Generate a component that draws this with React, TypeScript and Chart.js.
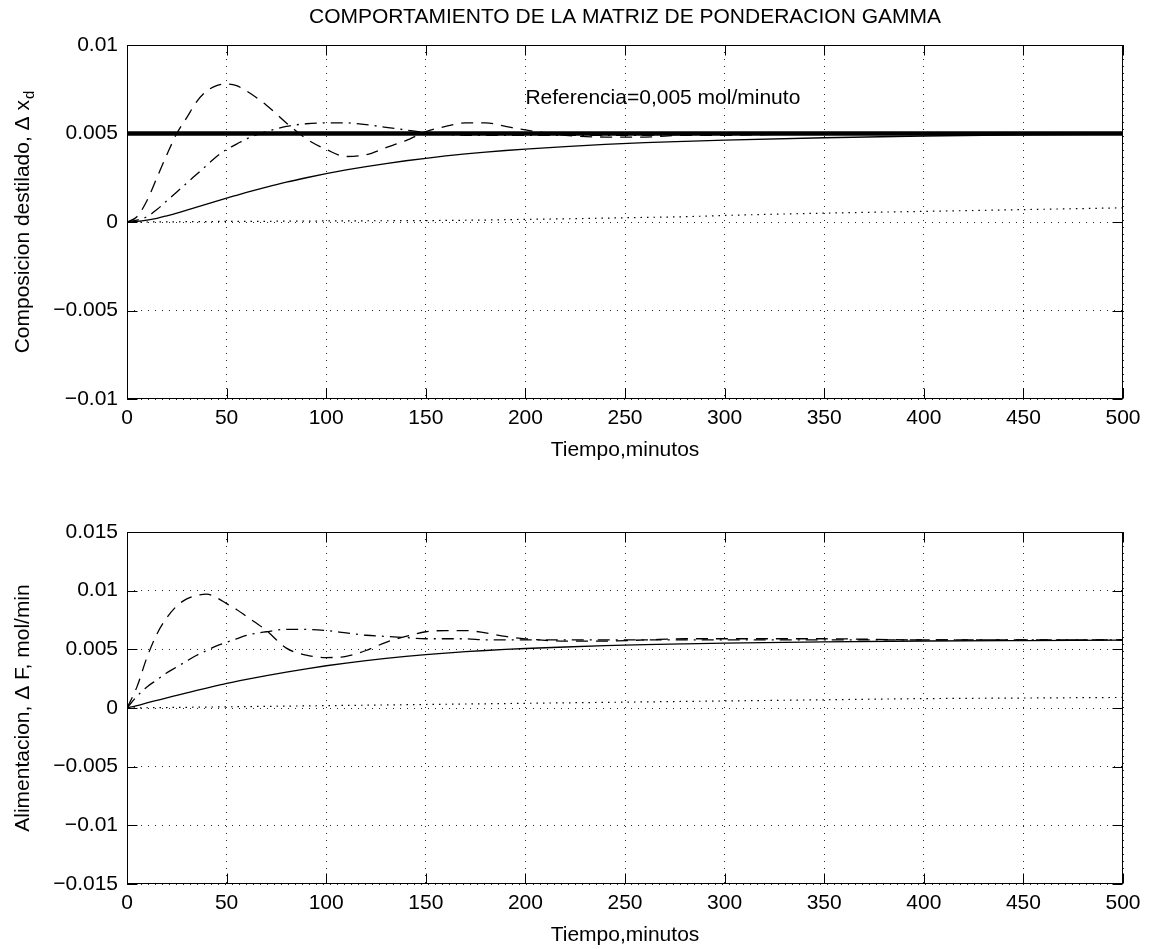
import React, { useEffect, useRef } from "react";
import { Chart, registerables } from "chart.js";

Chart.register(...registerables);

const FONT = '"Liberation Sans", Arial, Helvetica, sans-serif';

// ---------- DATA ----------
const TIME = [0, 5, 10, 15, 20, 25, 30, 35, 40, 45, 50, 55, 60, 70, 80, 90, 100, 110, 120, 130, 140, 150, 160, 170, 180, 190, 200, 220, 240, 260, 280, 300, 350, 400, 450, 500];

// Top subplot: Composicion destilado
const TOP_DASHED = [0, 0.0003, 0.0012, 0.0025, 0.0038, 0.005, 0.0059, 0.0068, 0.0074, 0.0077, 0.0078, 0.0077, 0.0074, 0.0066, 0.0056, 0.0047, 0.0041, 0.0037, 0.0038, 0.0042, 0.0046, 0.0051, 0.0054, 0.0056, 0.0056, 0.0054, 0.0052, 0.0049, 0.0048, 0.0048, 0.0049, 0.0049, 0.005, 0.005, 0.005, 0.005];
const TOP_DASHDOT = [0, 0.0001, 0.0003, 0.0007, 0.0012, 0.0017, 0.0022, 0.0027, 0.0032, 0.0037, 0.0041, 0.0044, 0.0047, 0.0051, 0.0054, 0.00555, 0.0056, 0.0056, 0.0055, 0.00535, 0.0052, 0.00505, 0.00495, 0.0049, 0.0049, 0.0049, 0.0049, 0.0049, 0.0049, 0.0049, 0.00495, 0.005, 0.005, 0.005, 0.005, 0.005];
const TOP_SOLID = [0, 0.00003, 0.0001, 0.00021, 0.00035, 0.0005, 0.00067, 0.00084, 0.00101, 0.00118, 0.00135, 0.00151, 0.00167, 0.00197, 0.00225, 0.0025, 0.00273, 0.00294, 0.00313, 0.0033, 0.00346, 0.0036, 0.00373, 0.00385, 0.00395, 0.00404, 0.00412, 0.00426, 0.00438, 0.00448, 0.00456, 0.00463, 0.00476, 0.00486, 0.00493, 0.00497];
const TOP_DOTTED = [0, 0, 0, 0.00001, 0.00001, 0.00001, 0.00002, 0.00002, 0.00002, 0.00003, 0.00003, 0.00003, 0.00004, 0.00004, 0.00005, 0.00005, 0.00006, 0.00006, 0.00007, 0.00007, 0.00008, 0.00008, 0.00009, 0.0001, 0.00011, 0.00013, 0.00015, 0.00018, 0.00022, 0.00026, 0.0003, 0.00037, 0.0005, 0.0006, 0.0007, 0.0008];
const REF_TIME = [0, 500];
const REF_VALUE = [0.005, 0.005];

// Bottom subplot: Alimentacion
const BOT_DASHED = [0, 0.0018, 0.0043, 0.0063, 0.0077, 0.0087, 0.0093, 0.0096, 0.0097, 0.0094, 0.0089, 0.0084, 0.0078, 0.0066, 0.0051, 0.0045, 0.0043, 0.0044, 0.0049, 0.0056, 0.0061, 0.0065, 0.0066, 0.0066, 0.0064, 0.0061, 0.0059, 0.0057, 0.0057, 0.0058, 0.0059, 0.0059, 0.0059, 0.0058, 0.0058, 0.0058];
const BOT_DASHDOT = [0, 0.001, 0.0018, 0.0024, 0.003, 0.0035, 0.004, 0.0045, 0.0049, 0.0053, 0.0056, 0.0059, 0.0062, 0.0065, 0.0067, 0.0067, 0.0066, 0.0064, 0.0062, 0.0061, 0.006, 0.0059, 0.0059, 0.0059, 0.0058, 0.0058, 0.0058, 0.0058, 0.0058, 0.0058, 0.0058, 0.0058, 0.0058, 0.0058, 0.0058, 0.0058];
const BOT_SOLID = [0, 0.0002, 0.00043, 0.00065, 0.00087, 0.00108, 0.00129, 0.0015, 0.0017, 0.0019, 0.0021, 0.00227, 0.00244, 0.00276, 0.00306, 0.00334, 0.0036, 0.00383, 0.00404, 0.00423, 0.0044, 0.00455, 0.00468, 0.0048, 0.0049, 0.00499, 0.00507, 0.0052, 0.00531, 0.0054, 0.00547, 0.00553, 0.00564, 0.00571, 0.00575, 0.00578];
const BOT_DOTTED = [0, 0.00001, 0.00002, 0.00003, 0.00004, 0.00005, 0.00006, 0.00007, 0.00008, 0.00009, 0.0001, 0.00011, 0.00012, 0.00014, 0.00016, 0.00018, 0.0002, 0.00022, 0.00024, 0.00026, 0.00028, 0.0003, 0.00032, 0.00034, 0.00036, 0.00038, 0.0004, 0.00044, 0.00048, 0.00052, 0.00056, 0.0006, 0.0007, 0.0008, 0.00085, 0.0009];

// Ticks
const X_TICK_VALUES = [0, 50, 100, 150, 200, 250, 300, 350, 400, 450, 500];
const X_TICK_LABELS = ["0", "50", "100", "150", "200", "250", "300", "350", "400", "450", "500"];
const TOP_Y_TICK_VALUES = [-0.01, -0.005, 0, 0.005, 0.01];
const TOP_Y_TICK_LABELS = ["\u22120.01", "\u22120.005", "0", "0.005", "0.01"];
const BOT_Y_TICK_VALUES = [-0.015, -0.01, -0.005, 0, 0.005, 0.01, 0.015];
const BOT_Y_TICK_LABELS = ["\u22120.015", "\u22120.01", "\u22120.005", "0", "0.005", "0.01", "0.015"];

// Texts
const TITLE = "COMPORTAMIENTO DE LA MATRIZ DE PONDERACION GAMMA";
const X_TITLE = "Tiempo,minutos";
const TOP_Y_TITLE = "Composicion destilado, \u0394 x";
const TOP_Y_SUB = "d";
const BOT_Y_TITLE = "Alimentacion, \u0394 F, mol/min";
const ANNOTATION = "Referencia=0,005 mol/minuto";
const ANNOTATION_AT = { x: 200, y: 0.007 };

// ---------- helpers ----------
function pts(xs: number[], ys: number[]) {
  return xs.map((x, i) => ({ x, y: ys[i] }));
}

function lookupLabel(values: number[], labels: string[], v: number) {
  let best = 0;
  for (let i = 1; i < values.length; i++) {
    if (Math.abs(values[i] - v) < Math.abs(values[best] - v)) best = i;
  }
  return labels[best];
}

function lineDs(data: any[], dash: number[], width: number) {
  return {
    data,
    borderColor: "#000",
    borderWidth: width,
    borderDash: dash,
    pointRadius: 0,
    fill: false,
    cubicInterpolationMode: "monotone" as const,
  };
}

interface SubProps {
  top: number;
  height: number;
  areaTop: number;
  areaBottom: number;
  datasets: any[];
  yMin: number;
  yMax: number;
  yTickValues: number[];
  yTickLabels: string[];
  yTitle: string;
  ySub?: string;
  showTitle?: boolean;
  annotation?: boolean;
}

const AREA_LEFT = 127;
const AREA_RIGHT = 1123;
const W = 1155;

function SubPlot(p: SubProps) {
  const ref = useRef<HTMLCanvasElement | null>(null);
  useEffect(() => {
    const canvas = ref.current;
    if (!canvas) return;
    const plugin = {
      id: "frameAndText",
      afterDraw(chart: any) {
        const { ctx, chartArea: a, scales } = chart;
        const xs = scales.x;
        const ys = scales.y;
        ctx.save();
        ctx.strokeStyle = "#000";
        ctx.lineWidth = 1;
        ctx.setLineDash([]);
        const L = Math.round(a.left) + 0.5;
        const R = Math.round(a.right) - 0.5;
        const T = Math.round(a.top) + 0.5;
        const B = Math.round(a.bottom) - 0.5;
        ctx.strokeRect(L, T, R - L, B - T);
        ctx.beginPath();
        xs.ticks.forEach((t: any) => {
          const px = Math.round(xs.getPixelForValue(t.value)) + 0.5;
          ctx.moveTo(px, B);
          ctx.lineTo(px, B - 10);
          ctx.moveTo(px, T);
          ctx.lineTo(px, T + 10);
        });
        ys.ticks.forEach((t: any) => {
          const py = Math.round(ys.getPixelForValue(t.value)) + 0.5;
          ctx.moveTo(L, py);
          ctx.lineTo(L + 10, py);
          ctx.moveTo(R, py);
          ctx.lineTo(R - 10, py);
        });
        ctx.stroke();

        ctx.fillStyle = "#000";
        const cx = (a.left + a.right) / 2;
        // x title
        ctx.font = `21px ${FONT}`;
        ctx.textAlign = "center";
        ctx.textBaseline = "middle";
        ctx.fillText(X_TITLE, cx, a.bottom + 51);
        // main title
        if (p.showTitle) {
          ctx.font = `21px ${FONT}`;
          ctx.fillText(TITLE, cx, a.top - 28);
        }
        // annotation
        if (p.annotation) {
          ctx.textAlign = "left";
          ctx.textBaseline = "middle";
          ctx.font = `21px ${FONT}`;
          ctx.fillText(ANNOTATION, xs.getPixelForValue(ANNOTATION_AT.x), ys.getPixelForValue(ANNOTATION_AT.y));
        }
        // y title (rotated)
        const cy = (a.top + a.bottom) / 2;
        ctx.save();
        ctx.translate(29, cy);
        ctx.rotate(-Math.PI / 2);
        ctx.textBaseline = "alphabetic";
        ctx.textAlign = "left";
        ctx.font = `21px ${FONT}`;
        const mainW = ctx.measureText(p.yTitle).width;
        let subW = 0;
        if (p.ySub) {
          ctx.font = `15px ${FONT}`;
          subW = ctx.measureText(p.ySub).width + 1;
        }
        const start = -(mainW + subW) / 2;
        ctx.font = `21px ${FONT}`;
        ctx.fillText(p.yTitle, start, 0);
        if (p.ySub) {
          ctx.font = `15px ${FONT}`;
          ctx.fillText(p.ySub, start + mainW + 1, 5);
        }
        ctx.restore();
        ctx.restore();
      },
    };

    const chart = new Chart(canvas, {
      type: "line",
      data: { datasets: p.datasets },
      options: {
        animation: false,
        responsive: false,
        maintainAspectRatio: false,
        events: [],
        layout: {
          padding: { left: 0, right: W - AREA_RIGHT, top: p.areaTop, bottom: 0 },
        },
        plugins: {
          legend: { display: false },
          tooltip: { enabled: false },
          title: { display: false },
        },
        scales: {
          x: {
            type: "linear",
            min: 0,
            max: 500,
            afterFit: (s: any) => {
              s.height = p.height - p.areaBottom;
            },
            afterBuildTicks: (s: any) => {
              s.ticks = X_TICK_VALUES.map((v) => ({ value: v }));
            },
            ticks: {
              color: "#000",
              font: { family: FONT, size: 21 },
              padding: 7,
              maxRotation: 0,
              autoSkip: false,
              callback: (v: any) => lookupLabel(X_TICK_VALUES, X_TICK_LABELS, Number(v)),
            },
            grid: {
              color: "rgba(0,0,0,0.85)",
              lineWidth: 1,
              drawTicks: false,
            },
            border: { display: false, dash: [1, 6] },
          },
          y: {
            type: "linear",
            min: p.yMin,
            max: p.yMax,
            afterFit: (s: any) => {
              s.width = AREA_LEFT;
            },
            afterBuildTicks: (s: any) => {
              s.ticks = p.yTickValues.map((v) => ({ value: v }));
            },
            ticks: {
              color: "#000",
              font: { family: FONT, size: 21 },
              padding: 9,
              autoSkip: false,
              callback: (v: any) => lookupLabel(p.yTickValues, p.yTickLabels, Number(v)),
            },
            grid: {
              color: "rgba(0,0,0,0.85)",
              lineWidth: 1,
              drawTicks: false,
            },
            border: { display: false, dash: [1, 6] },
          },
        },
      },
      plugins: [plugin],
    } as any);
    return () => chart.destroy();
  }, []);

  return (
    <canvas
      ref={ref}
      width={W}
      height={p.height}
      style={{ position: "absolute", left: 0, top: p.top, width: W, height: p.height }}
    />
  );
}

export default function App() {
  const topDatasets = [
    lineDs(pts(REF_TIME, REF_VALUE), [], 4.5),
    lineDs(pts(TIME, TOP_SOLID), [], 1.3),
    lineDs(pts(TIME, TOP_DASHED), [12, 8], 1.3),
    lineDs(pts(TIME, TOP_DASHDOT), [12, 6, 2, 6], 1.3),
    lineDs(pts(TIME, TOP_DOTTED), [1.5, 5], 1.2),
  ];
  const botDatasets = [
    lineDs(pts(TIME, BOT_SOLID), [], 1.3),
    lineDs(pts(TIME, BOT_DASHED), [12, 8], 1.3),
    lineDs(pts(TIME, BOT_DASHDOT), [12, 6, 2, 6], 1.3),
    lineDs(pts(TIME, BOT_DOTTED), [1.5, 5], 1.2),
  ];
  return (
    <div style={{ position: "absolute", left: 0, top: 0, width: 1155, height: 949, background: "#fff", overflow: "hidden" }}>
      <SubPlot
        top={0}
        height={475}
        areaTop={45}
        areaBottom={399}
        datasets={topDatasets}
        yMin={-0.01}
        yMax={0.01}
        yTickValues={TOP_Y_TICK_VALUES}
        yTickLabels={TOP_Y_TICK_LABELS}
        yTitle={TOP_Y_TITLE}
        ySub={TOP_Y_SUB}
        showTitle
        annotation
      />
      <SubPlot
        top={475}
        height={474}
        areaTop={57}
        areaBottom={409}
        datasets={botDatasets}
        yMin={-0.015}
        yMax={0.015}
        yTickValues={BOT_Y_TICK_VALUES}
        yTickLabels={BOT_Y_TICK_LABELS}
        yTitle={BOT_Y_TITLE}
      />
    </div>
  );
}
